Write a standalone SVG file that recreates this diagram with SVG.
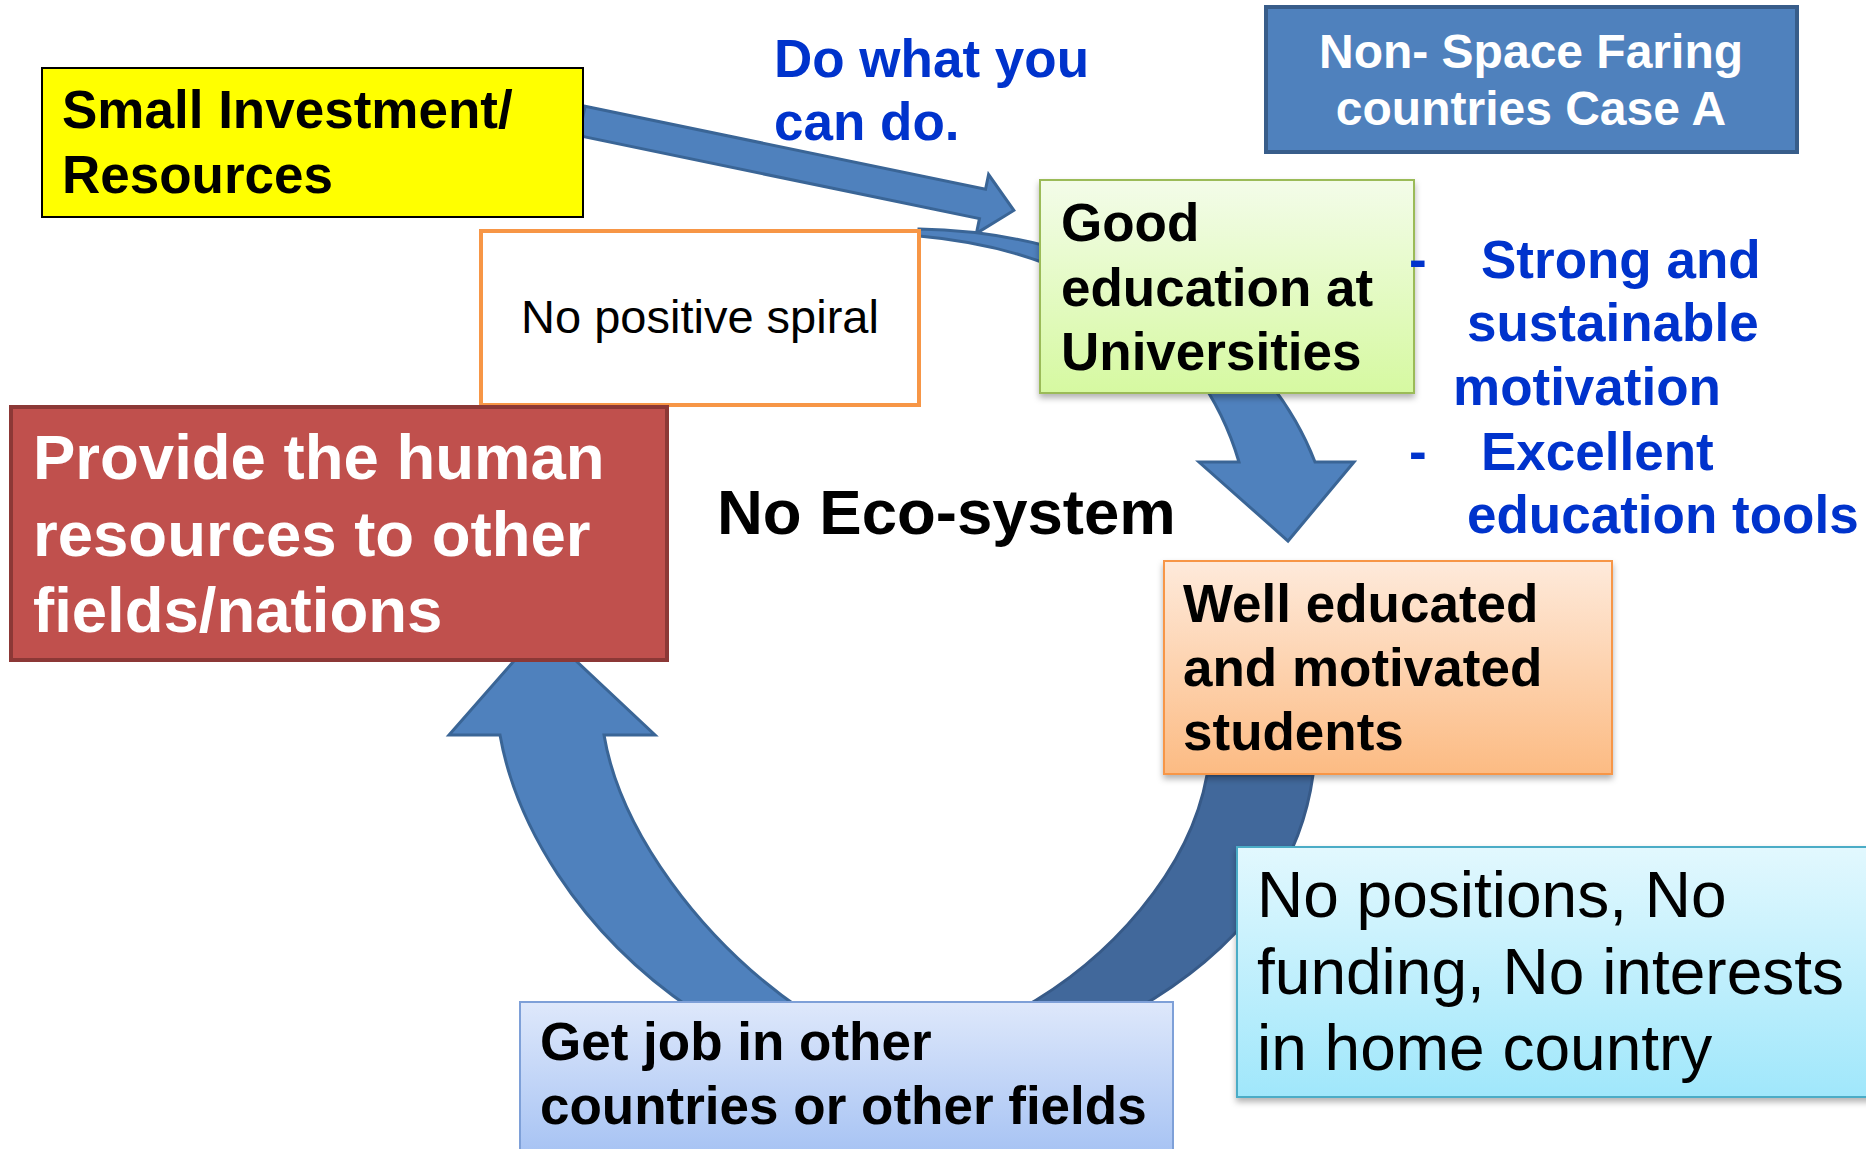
<svg xmlns="http://www.w3.org/2000/svg" width="1866" height="1149" viewBox="0 0 1866 1149">
<style>
.t{font-family:"Liberation Sans",Arial,sans-serif;}
.b{font-weight:bold;}
.blue{fill:#0033CC;}
.k{fill:#000;}
.w{fill:#fff;}
.arr{fill:#4F81BD;stroke:#3A6596;stroke-width:3;stroke-linejoin:miter;}
.arrd{fill:#41689B;stroke:#375A88;stroke-width:3;}
</style>
<defs>
<linearGradient id="gGreen" x1="0" y1="0" x2="0" y2="1"><stop offset="0" stop-color="#F3FCE9"/><stop offset="1" stop-color="#D6F9A1"/></linearGradient>
<linearGradient id="gOrange" x1="0" y1="0" x2="0" y2="1"><stop offset="0" stop-color="#FEEADB"/><stop offset="1" stop-color="#FCBB83"/></linearGradient>
<linearGradient id="gCyan" x1="0" y1="0" x2="0" y2="1"><stop offset="0" stop-color="#E2F8FE"/><stop offset="1" stop-color="#A0E7FB"/></linearGradient>
<linearGradient id="gJob" x1="0" y1="0" x2="0" y2="1"><stop offset="0" stop-color="#DEE8FB"/><stop offset="1" stop-color="#A4C1F3"/></linearGradient>
<filter id="sh" x="-10%" y="-10%" width="120%" height="130%"><feDropShadow dx="0" dy="4" stdDeviation="3" flood-color="#000" flood-opacity="0.3"/></filter>
</defs>
<rect width="1866" height="1149" fill="#fff"/>

<g id="connectors">
<path id="arrow-invest" class="arr" d="M0,-15 L409,-15 L409,-30 L441,0 L409,30 L409,15 L0,15 Z" transform="translate(582,121) rotate(11.7)"/>
<path id="arrow-spiral" class="arr" d="M919,229 C1100,232 1260,320 1315,462 L1354,462 L1288,541 L1199,462 L1239,462 C1200,330 1080,250 919,236 Z"/>
<path id="arrow-students" class="arrd" d="M1207,775 C1190,870 1110,960 1019,1010 L1135,1010 C1240,950 1300,870 1313,775 Z"/>
<path id="arrow-job" class="arr" d="M693,1010 C575,930 515,820 500,735 L449,735 L542,629 L655,735 L604,735 C620,830 700,940 802,1010 Z"/>
</g>

<g id="node-investment">
<rect x="42" y="68" width="541" height="149" fill="#FFFF00" stroke="#000" stroke-width="2"/>
<text class="t b k" font-size="53" x="62" y="128">Small Investment/</text>
<text class="t b k" font-size="53" x="62" y="193">Resources</text>
</g>

<g id="label-dowhat">
<text class="t b blue" font-size="53" x="774" y="77">Do what you</text>
<text class="t b blue" font-size="53" x="774" y="140">can do.</text>
</g>

<g id="node-title">
<rect x="1266" y="7" width="531" height="145" fill="#4F81BD" stroke="#385D8A" stroke-width="4"/>
<text class="t b w" font-size="48" x="1531" y="68" text-anchor="middle">Non- Space Faring</text>
<text class="t b w" font-size="48" x="1531" y="125" text-anchor="middle">countries Case A</text>
</g>

<g id="node-spiral">
<rect x="481" y="231" width="438" height="174" fill="#fff" stroke="#F79646" stroke-width="4"/>
<text class="t k" font-size="47" x="700" y="333" text-anchor="middle">No positive spiral</text>
</g>

<g id="node-education">
<rect x="1040" y="180" width="374" height="213" fill="url(#gGreen)" stroke="#9BBB59" stroke-width="2" filter="url(#sh)"/>
<text class="t b k" font-size="53" x="1061" y="241">Good</text>
<text class="t b k" font-size="53" x="1061" y="306">education at</text>
<text class="t b k" font-size="53" x="1061" y="370">Universities</text>
</g>

<g id="label-motivation">
<text class="t b blue" font-size="53" x="1409" y="278">-</text>
<text class="t b blue" font-size="53" x="1481" y="278">Strong and</text>
<text class="t b blue" font-size="53" x="1467" y="341">sustainable</text>
<text class="t b blue" font-size="53" x="1453" y="405">motivation</text>
<text class="t b blue" font-size="53" x="1409" y="470">-</text>
<text class="t b blue" font-size="53" x="1481" y="470">Excellent</text>
<text class="t b blue" font-size="53" x="1467" y="533">education tools</text>
</g>

<g id="node-provide">
<rect x="11" y="407" width="656" height="253" fill="#C0504D" stroke="#8C3836" stroke-width="4"/>
<text class="t b w" font-size="63.5" x="33" y="479">Provide the human</text>
<text class="t b w" font-size="63.5" x="33" y="556">resources to other</text>
<text class="t b w" font-size="63.5" x="33" y="632">fields/nations</text>
</g>

<g id="label-eco">
<text class="t b k" font-size="63.5" x="717" y="534">No Eco-system</text>
</g>

<g id="node-students">
<rect x="1164" y="561" width="448" height="213" fill="url(#gOrange)" stroke="#F79646" stroke-width="2" filter="url(#sh)"/>
<text class="t b k" font-size="53" x="1183" y="622">Well educated</text>
<text class="t b k" font-size="53" x="1183" y="686">and motivated</text>
<text class="t b k" font-size="53" x="1183" y="750">students</text>
</g>

<g id="node-nopositions">
<rect x="1237" y="847" width="640" height="250" fill="url(#gCyan)" stroke="#4BACC6" stroke-width="2" filter="url(#sh)"/>
<text class="t k" font-size="64" x="1257" y="917">No positions, No</text>
<text class="t k" font-size="64" x="1257" y="994">funding, No interests</text>
<text class="t k" font-size="64" x="1257" y="1070">in home country</text>
</g>

<g id="node-job">
<rect x="520" y="1002" width="653" height="160" fill="url(#gJob)" stroke="#7EA0D8" stroke-width="2"/>
<text class="t b k" font-size="53" x="540" y="1060">Get job in other</text>
<text class="t b k" font-size="53" x="540" y="1124">countries or other fields</text>
</g>
</svg>
